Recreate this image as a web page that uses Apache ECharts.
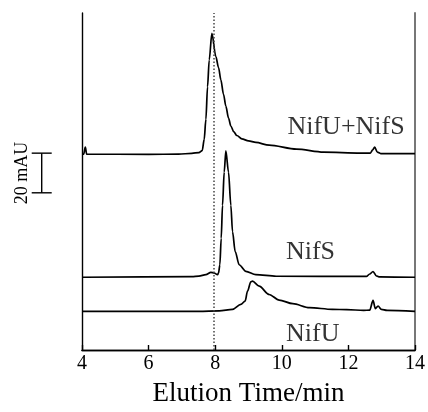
<!DOCTYPE html>
<html>
<head>
<meta charset="utf-8">
<script src="https://cdn.jsdelivr.net/npm/echarts@6/dist/echarts.min.js"></script>
<style>html,body{margin:0;padding:0;background:#fff}#c{width:428px;height:412px}</style>
</head>
<body>
<div id="c"></div>
<script>
// Elution time (min) and absorbance (mAU, traces stacked with offsets as drawn)
var nifUSTime = [4.0, 4.05, 4.10, 4.14, 6.0, 6.9, 7.3, 7.51, 7.61, 7.67, 7.72, 7.77, 7.82, 7.90, 8.02, 8.10, 8.17, 8.25, 8.32, 8.40, 8.47, 8.56, 8.65, 8.80, 9.0, 9.22, 9.62, 10.44, 11.25, 12.36, 12.66, 12.73, 12.79, 12.87, 12.97, 14.0];
var nifUSVal  = [98.8, 98.8, 102.3, 98.8, 98.7, 98.8, 99.2, 99.6, 100.6, 106.3, 116.3, 132.8, 146.3, 159.7, 148.0, 142.5, 136.3, 129.0, 123.0, 117.0, 113.0, 110.0, 108.2, 106.5, 105.5, 104.7, 103.3, 101.3, 99.8, 99.3, 99.3, 101.0, 102.3, 99.8, 99.1, 99.1];

var nifSTime = [4.0, 7.3, 7.51, 7.72, 7.87, 7.97, 8.07, 8.10, 8.14, 8.18, 8.22, 8.27, 8.32, 8.40, 8.47, 8.52, 8.60, 8.72, 8.92, 9.22, 9.83, 12.54, 12.64, 12.74, 12.84, 12.94, 14.0];
var nifSVal  = [36.7, 37.0, 37.3, 38.0, 39.2, 38.85, 38.0, 38.85, 43.0, 56.35, 73.0, 89.7, 100.5, 89.7, 73.0, 59.7, 49.7, 43.0, 39.7, 38.0, 37.2, 37.1, 38.35, 39.6, 37.35, 36.85, 36.7];

var nifUTime = [4.0, 7.51, 8.12, 8.52, 8.77, 8.90, 8.97, 9.07, 9.12, 9.32, 9.62, 9.92, 10.33, 10.83, 11.52, 11.95, 12.46, 12.64, 12.74, 12.81, 12.89, 12.99, 13.16, 14.0];
var nifUVal  = [19.5, 19.5, 19.7, 20.5, 23.0, 24.7, 29.7, 34.35, 34.7, 32.2, 28.0, 25.2, 23.35, 21.35, 20.5, 20.35, 20.0, 20.1, 25.0, 20.85, 22.2, 20.5, 20.0, 19.5];

var xTicks = [4, 6, 8, 10, 12, 14];
var refTime = 7.95;

var labelNames = ['NifU+NifS', 'NifS', 'NifU'];
var labelX = [11.93, 10.86, 10.93];
var labelY = [112.4, 49.4, 7.9];

var scaleBar = { x: 2.79, from: 79.3, to: 99.3, text: '20 mAU' };

function pairs(t, v) { return t.map(function (x, i) { return [x, v[i]]; }); }

var serif = "'Liberation Serif', 'Times New Roman', 'DejaVu Serif', serif";
var lineStyle = { color: '#000', width: 1.7 };

var chart = echarts.init(document.getElementById('c'), null, { renderer: 'canvas' });
chart.setOption({
  animation: false,
  backgroundColor: '#fff',
  grid: { left: 82, right: 12.5, top: 13, bottom: 59.3 },
  xAxis: [{
    type: 'value', min: 4, max: 14, interval: 2,
    axisLine: { show: true, lineStyle: { color: '#000', width: 1.4 } },
    axisTick: { show: true, inside: true, length: 5, lineStyle: { color: '#000', width: 1.4 } },
    axisLabel: { color: '#000', fontFamily: serif, fontSize: 20, margin: 4,
      formatter: function (v) { return xTicks.indexOf(v) >= 0 ? String(v) : ''; } },
    splitLine: { show: false },
    name: 'Elution Time/min', nameLocation: 'middle', nameGap: 30,
    nameTextStyle: { color: '#000', fontFamily: serif, fontSize: 27 }
  }, {
    type: 'value', min: 4, max: 14, position: 'top',
    axisLine: { show: true, lineStyle: { color: '#000', width: 1.3 } },
    axisTick: { show: false }, axisLabel: { show: false }, splitLine: { show: false }
  }],
  yAxis: [{
    type: 'value', min: 0, max: 170,
    axisLine: { show: true, lineStyle: { color: '#000', width: 1.4 } },
    axisTick: { show: false }, axisLabel: { show: false }, splitLine: { show: false }
  }, {
    type: 'value', min: 0, max: 170, position: 'right',
    axisLine: { show: true, lineStyle: { color: '#777', width: 2 } },
    axisTick: { show: false }, axisLabel: { show: false }, splitLine: { show: false }
  }],
  series: [
    {
      name: 'NifU+NifS', type: 'line', data: pairs(nifUSTime, nifUSVal),
      showSymbol: false, symbol: 'none', smooth: 0.3, smoothMonotone: 'x', lineStyle: lineStyle,
      markLine: {
        silent: true, symbol: ['none', 'none'], label: { show: false },
        lineStyle: { color: '#444', type: [1.5, 2], width: 1.5 },
        data: [{ xAxis: refTime }]
      }
    },
    { name: 'NifS', type: 'line', data: pairs(nifSTime, nifSVal),
      showSymbol: false, symbol: 'none', smooth: 0.3, smoothMonotone: 'x', lineStyle: lineStyle },
    { name: 'NifU', type: 'line', data: pairs(nifUTime, nifUVal),
      showSymbol: false, symbol: 'none', smooth: 0.3, smoothMonotone: 'x', lineStyle: lineStyle },
    {
      name: 'labels', type: 'scatter', symbolSize: 0, silent: true,
      data: labelNames.map(function (n, i) { return { value: [labelX[i], labelY[i]], name: n }; }),
      label: { show: true, position: 'inside', formatter: '{b}', color: '#000', fontFamily: serif, fontSize: 26 }
    },
    {
      name: 'scale', type: 'custom', clip: false, silent: true,
      data: [[scaleBar.x, scaleBar.from, scaleBar.to]],
      renderItem: function (params, api) {
        var p0 = api.coord([api.value(0), api.value(1)]);
        var p1 = api.coord([api.value(0), api.value(2)]);
        var st = { stroke: '#000', lineWidth: 1.4 };
        return { type: 'group', children: [
          { type: 'line', shape: { x1: p0[0], y1: p0[1], x2: p1[0], y2: p1[1] }, style: st },
          { type: 'line', shape: { x1: p0[0] - 10, y1: p0[1], x2: p0[0] + 10, y2: p0[1] }, style: st },
          { type: 'line', shape: { x1: p1[0] - 10, y1: p1[1], x2: p1[0] + 10, y2: p1[1] }, style: st },
          { type: 'text', x: p0[0] - 19, y: (p0[1] + p1[1]) / 2, rotation: Math.PI / 2,
            style: { text: scaleBar.text, fill: '#000', font: '18px ' + serif, align: 'center', verticalAlign: 'middle' } }
        ] };
      }
    }
  ]
});
</script>
</body>
</html>
